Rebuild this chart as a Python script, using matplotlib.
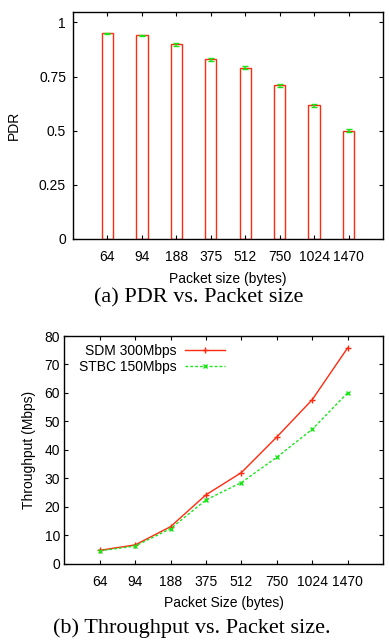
import numpy as np
import matplotlib
matplotlib.use('Agg')
import matplotlib.pyplot as plt

plt.rcParams['font.family'] = ['Liberation Sans', 'DejaVu Sans']

packet_sizes = ['64', '94', '188', '375', '512', '750', '1024', '1470']
pdr = [0.95, 0.94, 0.90, 0.83, 0.79, 0.71, 0.617, 0.50]
pdr_err = [0.003, 0.003, 0.007, 0.007, 0.007, 0.007, 0.007, 0.007]
sdm_300 = [4.7, 6.6, 13.0, 24.2, 32.0, 44.5, 57.6, 75.8]
stbc_150 = [4.5, 6.2, 12.3, 22.4, 28.5, 37.4, 47.2, 60.0]

RED = '#ff2a10'
GREEN = '#19e619'
W, H = 389, 641

fig = plt.figure(figsize=(W / 100, H / 100), dpi=100)


def style_axes(ax):
    ax.tick_params(direction='in', top=True, right=True, length=3,
                   width=0.8, labelsize=10)
    for s in ax.spines.values():
        s.set_linewidth(1.0)


x = np.arange(len(packet_sizes))

# (a) PDR bars
ax1 = fig.add_axes([73 / W, 1 - 239 / H, 310 / W, 227 / H])
ax1.bar(x, pdr, width=0.33, facecolor='white', edgecolor=RED, linewidth=1.0)
ax1.errorbar(x, pdr, yerr=pdr_err, fmt='none', ecolor=GREEN,
             elinewidth=1.2, capsize=2, capthick=1.0)
ax1.set_xlim(-1, 8)
ax1.set_ylim(0, 1.048)
ax1.set_xticks(x)
ax1.set_xticklabels(packet_sizes)
ax1.set_yticks([0, 0.25, 0.5, 0.75, 1])
ax1.set_yticklabels(['0', '0.25', '0.5', '0.75', '1'])
style_axes(ax1)
ax1.tick_params(axis='y', pad=5)
ax1.tick_params(axis='x', pad=8)
ax1.set_xlabel('Packet size (bytes)', fontsize=10, labelpad=6)
ax1.set_ylabel('PDR', fontsize=10, labelpad=13)
fig.text(198.5 / W, 1 - 298 / H, '(a) PDR vs. Packet size',
         family='Liberation Serif', fontsize=16, ha='center', va='center')

# (b) throughput lines
ax2 = fig.add_axes([64.3 / W, 1 - 563.7 / H, 318.7 / W, 227.7 / H])
ax2.plot(x, sdm_300, '-', color=RED, linewidth=1.0, marker='+',
         markersize=4, markeredgewidth=1.0, label='SDM 300Mbps')
ax2.plot(x, stbc_150, '--', color=GREEN, linewidth=1.0, marker='x',
         markersize=3.5, markeredgewidth=1.0, dashes=(2, 1.5),
         label='STBC 150Mbps')
ax2.set_xlim(-1, 8)
ax2.set_ylim(0, 80)
ax2.set_xticks(x)
ax2.set_xticklabels(packet_sizes)
ax2.set_yticks(range(0, 81, 10))
style_axes(ax2)
ax2.tick_params(axis='y', pad=3)
ax2.tick_params(axis='x', pad=8)
ax2.set_xlabel('Packet Size (bytes)', fontsize=10, labelpad=5)
ax2.set_ylabel('Throughput (Mbps)', fontsize=10, labelpad=6)
ax2.legend(loc='upper left', bbox_to_anchor=(0.02, 1.0), frameon=False,
           markerfirst=False, fontsize=10, handlelength=2.9,
           handletextpad=0.6, labelspacing=0.1, borderaxespad=0.2)
fig.text(192 / W, 1 - 628 / H, '(b) Throughput vs. Packet size.',
         family='Liberation Serif', fontsize=16, ha='center', va='center')

fig.savefig('out.png', dpi=100)
